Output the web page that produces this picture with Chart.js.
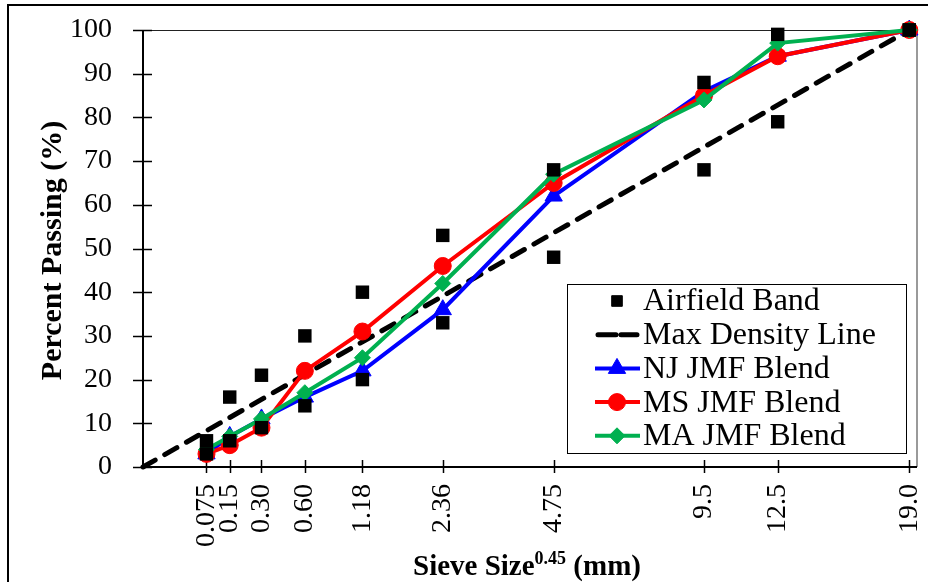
<!DOCTYPE html>
<html lang="en">
<head>
    <meta charset="UTF-8">
    <title>Gradation Chart</title>
    <script src="https://cdn.jsdelivr.net/npm/chart.js"></script>
    <style>
        html, body { margin: 0; padding: 0; background: #fff; overflow: hidden; }
        #wrap { width: 928px; height: 582px; }
    </style>
</head>
<body>
    <div id="wrap"><canvas id="gradationChart" width="928" height="582"></canvas></div>

    <script>
        // Sieve sizes (mm) and the labels shown under the axis
        const sieveSizes = [0.075, 0.15, 0.30, 0.60, 1.18, 2.36, 4.75, 9.5, 12.5, 19.0];
        const sieveLabels = ['0.075', '0.15', '0.30', '0.60', '1.18', '2.36', '4.75', '9.5', '12.5', '19.0'];

        // Percent passing
        const bandLower = [3, 6, 9, 14, 20, 33, 48, 68, 79, 100];
        const bandUpper = [6, 16, 21, 30, 40, 53, 68, 88, 99, 100];
        const maxDensitySizes = [0, 19.0];
        const maxDensityPassing = [0, 100];
        const njBlend = [3, 7, 11, 16, 22, 36, 62, 86, 94, 100];
        const msBlend = [3, 5, 9, 22, 31, 46, 65, 85, 94, 100];
        const maBlend = [4, 7, 11, 17, 25, 42, 67, 84, 97, 100];

        const SERIF = '"Liberation Serif", "Times New Roman", serif';
        const pw = s => Math.pow(s, 0.45);
        const toPoints = (sizes, vals) => sizes.map((s, i) => ({ x: pw(s), y: vals[i] }));

        const bandPoints = toPoints(sieveSizes, bandLower).concat(toPoints(sieveSizes, bandUpper));

        const datasets = [
            {
                label: 'Airfield Band',
                data: bandPoints,
                showLine: false,
                pointStyle: 'rect',
                pointRadius: 9.5,
                backgroundColor: '#000',
                borderColor: '#000',
                borderWidth: 0,
                order: 0,
                clip: false
            },
            {
                label: 'Max Density Line',
                data: toPoints(maxDensitySizes, maxDensityPassing),
                showLine: true,
                borderColor: '#000',
                borderWidth: 5,
                borderDash: [14, 11],
                borderCapStyle: 'round',
                pointRadius: 0,
                order: 4,
                clip: false
            },
            {
                label: 'NJ JMF Blend',
                data: toPoints(sieveSizes, njBlend),
                showLine: true,
                borderColor: '#0000ff',
                backgroundColor: '#0000ff',
                borderWidth: 4,
                pointStyle: 'triangle',
                pointRadius: 10,
                pointBorderWidth: 1,
                order: 3,
                clip: false
            },
            {
                label: 'MS JMF Blend',
                data: toPoints(sieveSizes, msBlend),
                showLine: true,
                borderColor: '#ff0000',
                backgroundColor: '#ff0000',
                borderWidth: 4,
                pointStyle: 'circle',
                pointRadius: 8.5,
                pointBorderWidth: 1,
                order: 2,
                clip: false
            },
            {
                label: 'MA JMF Blend',
                data: toPoints(sieveSizes, maBlend),
                showLine: true,
                borderColor: '#00b050',
                backgroundColor: '#00b050',
                borderWidth: 4,
                pointStyle: 'rectRot',
                pointRadius: 8,
                pointBorderWidth: 1,
                order: 1,
                clip: false
            }
        ];

        // Axes, crossing tick marks, titles, outer frame and legend box
        const decorations = {
            id: 'decorations',
            beforeDatasetsDraw(chart) {
                const ctx = chart.ctx;
                const area = chart.chartArea;
                const xs = chart.scales.x;
                const ys = chart.scales.y;
                ctx.save();

                // top and right border of the plot
                ctx.strokeStyle = '#222';
                ctx.lineWidth = 1;
                ctx.beginPath();
                ctx.moveTo(area.left, area.top + 0.5);
                ctx.lineTo(area.right, area.top + 0.5);
                ctx.stroke();
                ctx.strokeStyle = '#9a9a9a';
                ctx.lineWidth = 2;
                ctx.beginPath();
                ctx.moveTo(area.right, area.top);
                ctx.lineTo(area.right, area.bottom);
                ctx.stroke();

                // axes
                ctx.strokeStyle = '#000';
                ctx.lineWidth = 2;
                ctx.beginPath();
                ctx.moveTo(area.left, area.top);
                ctx.lineTo(area.left, area.bottom);
                ctx.lineTo(area.right, area.bottom);
                ctx.stroke();

                // tick marks crossing the axes
                ctx.lineWidth = 1.5;
                ctx.beginPath();
                ys.ticks.forEach(t => {
                    const py = Math.round(ys.getPixelForValue(t.value)) + 0.5;
                    ctx.moveTo(area.left - 10, py);
                    ctx.lineTo(area.left + 9, py);
                });
                xs.ticks.forEach(t => {
                    const px = Math.round(xs.getPixelForValue(t.value)) + 0.5;
                    ctx.moveTo(px, area.bottom - 7);
                    ctx.lineTo(px, area.bottom + 6);
                });
                ctx.stroke();
                ctx.restore();
            },
            afterDraw(chart) {
                const ctx = chart.ctx;
                const area = chart.chartArea;
                ctx.save();

                // outer frame
                ctx.strokeStyle = '#000';
                ctx.lineWidth = 2;
                ctx.strokeRect(8, 5, 1000, 1000);

                // y title
                ctx.fillStyle = '#000';
                ctx.save();
                ctx.translate(61, (area.top + area.bottom) / 2 + 2);
                ctx.rotate(-Math.PI / 2);
                ctx.font = 'bold 30px ' + SERIF;
                ctx.textAlign = 'center';
                ctx.textBaseline = 'alphabetic';
                ctx.fillText('Percent Passing (%)', 0, 0);
                ctx.restore();

                // x title with superscript
                const mainFont = 'bold 29px ' + SERIF;
                const supFont = 'bold 18px ' + SERIF;
                const parts = [['Sieve Size', mainFont, 0], ['0.45', supFont, -11], [' (mm)', mainFont, 0]];
                let total = 0;
                parts.forEach(p => { ctx.font = p[1]; total += ctx.measureText(p[0]).width; });
                let tx = (area.left + area.right) / 2 - total / 2 - 3;
                ctx.textAlign = 'left';
                ctx.textBaseline = 'alphabetic';
                parts.forEach(p => {
                    ctx.font = p[1];
                    ctx.fillText(p[0], tx, 575 + p[2]);
                    tx += ctx.measureText(p[0]).width;
                });

                // legend
                const box = { left: 567, top: 284, width: 339, height: 169 };
                ctx.fillStyle = '#fff';
                ctx.fillRect(box.left, box.top, box.width, box.height);
                ctx.strokeStyle = '#000';
                ctx.lineWidth = 1;
                ctx.strokeRect(box.left + 0.5, box.top + 0.5, box.width, box.height);

                ctx.font = '32px ' + SERIF;
                ctx.textBaseline = 'middle';
                chart.data.datasets.forEach((ds, i) => {
                    const cy = 301 + i * 33.7;
                    const cx = 617;
                    ctx.save();
                    if (ds.showLine) {
                        ctx.strokeStyle = ds.borderColor;
                        ctx.lineWidth = ds.borderWidth;
                        ctx.lineCap = ds.borderCapStyle || 'butt';
                        ctx.setLineDash(ds.borderDash ? [18, 5] : []);
                        ctx.beginPath();
                        ctx.moveTo(ds.borderDash ? 598 : 595, cy);
                        ctx.lineTo(ds.borderDash ? 637 : 640, cy);
                        ctx.stroke();
                        ctx.setLineDash([]);
                    }
                    if (ds.pointRadius > 0) {
                        ctx.fillStyle = ds.backgroundColor;
                        ctx.strokeStyle = ds.backgroundColor;
                        ctx.lineWidth = 1;
                        const r = ds.pointStyle === 'rect' ? 7.5 : ds.pointRadius;
                        Chart.helpers.drawPoint(ctx, {
                            pointStyle: ds.pointStyle, radius: r, rotation: 0, borderWidth: 1
                        }, cx, cy);
                    }
                    ctx.restore();
                    ctx.fillStyle = '#000';
                    ctx.fillText(ds.label, 643, cy + 1);
                });
                ctx.restore();
            }
        };

        const ctx = document.getElementById('gradationChart').getContext('2d');
        new Chart(ctx, {
            type: 'scatter',
            data: { datasets: datasets },
            options: {
                responsive: false,
                animation: false,
                devicePixelRatio: 1,
                layout: { padding: { left: 0, top: 30, right: 9, bottom: 0 } },
                plugins: {
                    legend: { display: false },
                    tooltip: { enabled: false }
                },
                scales: {
                    x: {
                        type: 'linear',
                        min: 0,
                        max: 3.8,
                        afterBuildTicks: scale => {
                            scale.ticks = sieveSizes.map(s => ({ value: pw(s) }));
                        },
                        afterFit: scale => {
                            scale.height = 115;
                            scale.paddingLeft = 0;
                            scale.paddingRight = 0;
                        },
                        ticks: {
                            autoSkip: false,
                            minRotation: 90,
                            maxRotation: 90,
                            padding: 17,
                            color: '#000',
                            font: { family: SERIF, size: 28 },
                            callback: (value, index) => sieveLabels[index]
                        },
                        grid: { display: false, drawTicks: false },
                        border: { display: false }
                    },
                    y: {
                        min: 0,
                        max: 100,
                        afterFit: scale => {
                            scale.width = 143;
                            scale.paddingTop = 0;
                            scale.paddingBottom = 0;
                        },
                        ticks: {
                            stepSize: 10,
                            padding: 31,
                            color: '#000',
                            font: { family: SERIF, size: 28 }
                        },
                        grid: { display: false, drawTicks: false },
                        border: { display: false }
                    }
                }
            },
            plugins: [decorations]
        });
    </script>
</body>
</html>
